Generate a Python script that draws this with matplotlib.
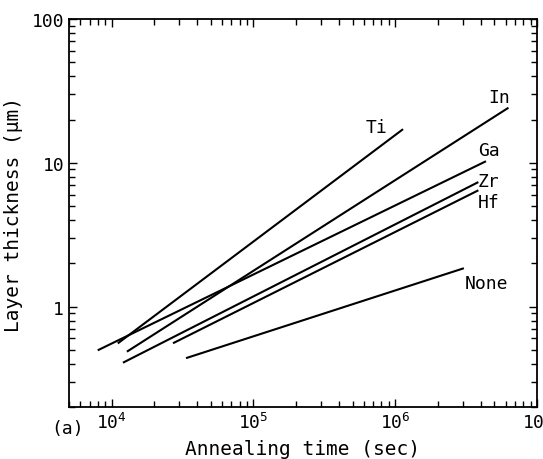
import matplotlib
matplotlib.use("Agg")
import matplotlib.pyplot as plt
import matplotlib.ticker as ticker

# Datos (tiempo de recocido en s, espesor de capa en µm)
elementos = ["Ti", "In", "Ga", "Zr", "Hf", "None"]
tiempo_ti = [1.12e4, 1.12e6]
espesor_ti = [0.56, 17.0]
tiempo_in = [1.3e4, 6.2e6]
espesor_in = [0.49, 24.0]
tiempo_ga = [8.1e3, 4.3e6]
espesor_ga = [0.50, 10.2]
tiempo_zr = [1.22e4, 3.8e6]
espesor_zr = [0.41, 7.3]
tiempo_hf = [2.75e4, 3.8e6]
espesor_hf = [0.56, 6.4]
tiempo_none = [3.4e4, 3.0e6]
espesor_none = [0.44, 1.84]

# posiciones de las etiquetas (coordenadas de datos)
etiqueta_x = [7.4e5, 5.4e6, 4.55e6, 4.55e6, 4.55e6, 4.4e6]
etiqueta_y = [17.8, 28.7, 12.3, 7.5, 5.36, 1.47]

plt.rcParams["font.family"] = ["DejaVu Sans Mono", "DejaVu Sans"]
plt.rcParams["mathtext.default"] = "regular"

fig = plt.figure(figsize=(5.43, 4.60), dpi=100)
ax = fig.add_axes([0.127, 0.113, 0.862, 0.843])

series = [
    (tiempo_ti, espesor_ti),
    (tiempo_in, espesor_in),
    (tiempo_ga, espesor_ga),
    (tiempo_zr, espesor_zr),
    (tiempo_hf, espesor_hf),
    (tiempo_none, espesor_none),
]
for (t, d), nombre, lx, ly in zip(series, elementos, etiqueta_x, etiqueta_y):
    ax.plot(t, d, color="black", linewidth=1.5)
    ax.text(lx, ly, nombre, fontsize=13, ha="center", va="center")

ax.set_xscale("log")
ax.set_yscale("log")
ax.set_xlim(5e3, 1e7)
ax.set_ylim(0.2, 100)

ax.xaxis.set_major_locator(ticker.LogLocator(base=10, numticks=10))
ax.xaxis.set_minor_locator(ticker.LogLocator(base=10, subs=range(2, 10), numticks=20))
ax.xaxis.set_major_formatter(ticker.LogFormatterMathtext())
ax.xaxis.set_minor_formatter(ticker.NullFormatter())
ax.yaxis.set_major_locator(ticker.FixedLocator([1, 10, 100]))
ax.yaxis.set_minor_locator(ticker.LogLocator(base=10, subs=range(2, 10), numticks=20))
ax.yaxis.set_major_formatter(ticker.FuncFormatter(lambda v, p: f"{v:g}"))
ax.yaxis.set_minor_formatter(ticker.NullFormatter())

ax.tick_params(which="both", direction="in", top=True, right=True, labelsize=13, width=1.0)
ax.tick_params(which="major", length=6)
ax.tick_params(which="minor", length=4)
for s in ax.spines.values():
    s.set_linewidth(1.3)

ax.set_xlabel("Annealing time (sec)", fontsize=14, labelpad=5)
ax.set_ylabel("Layer thickness (μm)", fontsize=14, labelpad=6)
fig.text(68 / 543, 1 - 429 / 460, "(a)", fontsize=13, ha="center", va="center")

fig.savefig("out.png", dpi=100)
